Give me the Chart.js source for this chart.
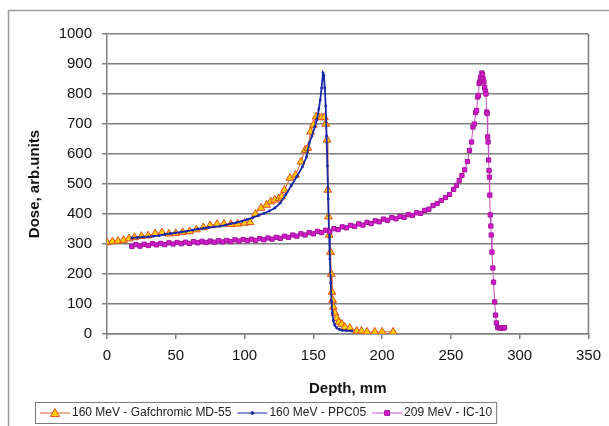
<!DOCTYPE html>
<html lang="en">
<head>
    <meta charset="UTF-8">
    <title>Depth dose</title>
    <script src="https://cdn.jsdelivr.net/npm/chart.js"></script>
    <style>
        body { margin: 0; background: #fff; }
        canvas { display: block; }
    </style>
</head>
<body>
    <canvas id="dose-chart" width="609" height="426"></canvas>

    <script>
        // Series labels
        const seriesNames = ['160 MeV - Gafchromic MD-55', '160 MeV - PPC05', '209 MeV - IC-10'];

        // 160 MeV - Gafchromic MD-55 (triangles)
        const gafDepth = [0,4,8,12,16,20,25,30,35,40,45,50,55,60,65,70,75,80,85,90,95,100,104,108,112,116,119,122,125,127,129,133,137,141,144,146,148,150,152,154,156,158,159,160,160.5,161,161.5,162.5,163,163.5,164,164.5,165.6,167,168.5,170.6,172.8,176.5,181.5,185,189,194.6,200,208];
        const gafDose = [305,308,310,313,318,322,326,328,335,338,334,336,339,342,348,355,362,366,367,366,367,370,372,400,420,430,441,447,452,458,480,520,530,574,613,620,674,697,724,722,722,722,700,647,480,391,330,273,200,140,113,90,70,53,40,33,23,20,10,10,7,7,7,7];

        // 160 MeV - PPC05 (small dots)
        const ppcDepth = [18,22,26,30,34,38,42,46,50,54,58,62,66,70,74,78,82,86,90,94,98,102,106,110,114,118,122,126,130,134,138,142,145,147,149,151,152.5,154,155,156,157,157.7,158.3,159,159.6,160.2,160.8,161.4,162,162.6,163.2,163.8,164.5,165.5,167,169,171,174,178];
        const ppcDose = [320,322,323,324,326,328,332,335,337,340,343,346,350,352,355,357,359,363,368,371,376,382,388,395,402,410,420,437,465,495,525,557,590,637,660,690,713,750,780,820,870,862,820,760,660,560,450,340,250,170,110,70,45,30,20,15,12,11,10];

        // 209 MeV - IC-10 (squares)
        const icDepth = [18,21,24,27,30,33,36,39,42,45,48,51,54,57,60,63,66,69,72,75,78,81,84,87,90,93,96,99,102,105,108,111,114,117,120,123,126,129,132,135,138,141,144,147,150,153,156,159,162,165,168,171,174,177,180,183,186,189,192,195,198,201,204,207,210,213,216,219,222,225,228,231,234,237,240,243,246,249,252,254,256,258,260,262,263.5,265,266,267,268,268.7,269.5,270,270.5,271,271.5,272,272.5,273,273.5,274,274.5,275,275.5,276,276.3,276.7,277,277.4,277.7,278,278.3,278.6,279,279.3,279.8,280.5,281,281.8,282.5,283,284,285,286,287,288,289];
        const icDose = [292,298,293,299,295,301,297,302,298,304,300,305,301,306,302,308,304,309,305,310,306,311,307,312,308,314,310,315,311,316,312,318,314,320,316,322,319,326,322,330,326,334,330,338,334,342,338,346,342,351,348,357,354,362,359,367,363,372,368,377,374,383,379,388,384,392,389,398,395,404,402,412,416,428,435,445,455,465,482,495,512,528,547,575,612,640,690,700,738,745,790,795,835,840,855,845,870,865,850,840,822,810,800,740,735,657,640,580,545,523,463,397,360,330,273,220,173,107,63,37,22,20,20,21,20,21];

        // Axis ticks
        const depthTicks = [0, 50, 100, 150, 200, 250, 300, 350];
        const doseTicks = [0, 100, 200, 300, 400, 500, 600, 700, 800, 900, 1000];

        const FONT = '"Liberation Sans", Arial, sans-serif';
        const GRID = '#7f7f7f';

        function toPoints(xs, ys) {
            return xs.map((x, i) => ({ x: x, y: ys[i] }));
        }

        // Outer frame, right plot border
        const framePlugin = {
            id: 'frame',
            beforeDraw(chart) {
                const ctx = chart.ctx;
                ctx.save();
                ctx.fillStyle = '#fff';
                ctx.fillRect(0, 0, chart.width, chart.height);
                ctx.strokeStyle = '#9a9a9a';
                ctx.lineWidth = 1.5;
                ctx.strokeRect(8.5, 10.5, 700, 500);
                ctx.restore();
            },
            afterDatasetsDraw(chart) {
                const ctx = chart.ctx;
                const a = chart.chartArea;
                ctx.save();
                ctx.strokeStyle = GRID;
                ctx.lineWidth = 1.5;
                ctx.beginPath();
                ctx.moveTo(a.right, a.top);
                ctx.lineTo(a.right, a.bottom);
                ctx.stroke();
                ctx.restore();
            }
        };

        function drawMarker(ctx, ds, x, y) {
            ctx.fillStyle = ds.pointBackgroundColor;
            ctx.strokeStyle = ds.pointBorderColor;
            ctx.lineWidth = 1;
            const r = ds.pointRadius;
            ctx.beginPath();
            if (ds.pointStyle === 'triangle') {
                ctx.moveTo(x, y - r);
                ctx.lineTo(x + r, y + r * 0.8);
                ctx.lineTo(x - r, y + r * 0.8);
                ctx.closePath();
            } else if (ds.pointStyle === 'rect') {
                ctx.rect(x - r * 0.8, y - r * 0.8, r * 1.6, r * 1.6);
            } else {
                ctx.arc(x, y, r, 0, Math.PI * 2);
            }
            ctx.fill();
            ctx.stroke();
        }

        // Excel style boxed legend with line + marker samples
        const boxLegend = {
            id: 'boxLegend',
            afterDraw(chart) {
                const ctx = chart.ctx;
                ctx.save();
                ctx.font = '12px ' + FONT;
                ctx.textBaseline = 'middle';
                const y = 413;
                const sample = 30;
                let x = 40;
                chart.data.datasets.forEach(ds => {
                    ctx.strokeStyle = ds.borderColor;
                    ctx.lineWidth = 1;
                    ctx.beginPath();
                    ctx.moveTo(x, y);
                    ctx.lineTo(x + sample, y);
                    ctx.stroke();
                    drawMarker(ctx, ds, x + sample / 2, y);
                    ctx.fillStyle = '#222';
                    ctx.fillText(ds.label, x + sample + 2, y);
                    x += sample + 2 + ctx.measureText(ds.label).width + 6;
                });
                ctx.strokeStyle = '#7a7a7a';
                ctx.lineWidth = 1;
                ctx.strokeRect(35.5, 402.5, x - 37, 21);
                ctx.restore();
            }
        };

        const ctx = document.getElementById('dose-chart').getContext('2d');
        new Chart(ctx, {
            type: 'scatter',
            data: {
                datasets: [
                    {
                        label: seriesNames[0],
                        data: toPoints(gafDepth, gafDose),
                        showLine: true,
                        borderColor: '#e0602a',
                        borderWidth: 1,
                        pointStyle: 'triangle',
                        pointRadius: 4.5,
                        pointBackgroundColor: '#ffcc00',
                        pointBorderColor: '#e05020',
                        pointBorderWidth: 1,
                        order: 2
                    },
                    {
                        label: seriesNames[1],
                        data: toPoints(ppcDepth, ppcDose),
                        showLine: true,
                        borderColor: '#1a28a8',
                        borderWidth: 1.8,
                        pointStyle: 'circle',
                        pointRadius: 1.4,
                        pointBackgroundColor: '#1a28a8',
                        pointBorderColor: '#1a28a8',
                        pointBorderWidth: 0,
                        order: 1
                    },
                    {
                        label: seriesNames[2],
                        data: toPoints(icDepth, icDose),
                        showLine: true,
                        borderColor: '#c650bf',
                        borderWidth: 1,
                        pointStyle: 'rect',
                        pointRadius: 3,
                        pointBackgroundColor: '#d41ccb',
                        pointBorderColor: '#a3139c',
                        pointBorderWidth: 1,
                        order: 0
                    }
                ]
            },
            options: {
                responsive: false,
                animation: false,
                layout: { padding: { top: 34, right: 20, left: 0, bottom: 28 } },
                plugins: {
                    legend: { display: false },
                    tooltip: { enabled: false }
                },
                scales: {
                    x: {
                        type: 'linear',
                        min: depthTicks[0],
                        max: depthTicks[depthTicks.length - 1],
                        afterBuildTicks: scale => { scale.ticks = depthTicks.map(v => ({ value: v })); },
                        afterFit: scale => { scale.height = 64; },
                        grid: { drawOnChartArea: false, color: GRID, lineWidth: 1.5, tickLength: 5 },
                        border: { color: GRID, width: 1.5 },
                        ticks: { color: '#111', font: { family: FONT, size: 15 }, padding: 8, maxRotation: 0, callback: v => String(v) },
                        title: { display: true, text: 'Depth, mm', color: '#111', font: { family: FONT, size: 15, weight: 'bold' }, padding: { top: 0, bottom: 0 } }
                    },
                    y: {
                        type: 'linear',
                        min: doseTicks[0],
                        max: doseTicks[doseTicks.length - 1],
                        afterBuildTicks: scale => { scale.ticks = doseTicks.map(v => ({ value: v })); },
                        afterFit: scale => { scale.width = 107; },
                        grid: { color: GRID, lineWidth: 1.5, tickLength: 5 },
                        border: { color: GRID, width: 1.5 },
                        ticks: { color: '#111', font: { family: FONT, size: 15 }, padding: 10, callback: v => String(v) },
                        title: { display: true, text: 'Dose, arb.units', color: '#111', font: { family: FONT, size: 15, weight: 'bold' }, padding: { top: 26, bottom: 0 } }
                    }
                }
            },
            plugins: [framePlugin, boxLegend]
        });
    </script>
</body>
</html>
